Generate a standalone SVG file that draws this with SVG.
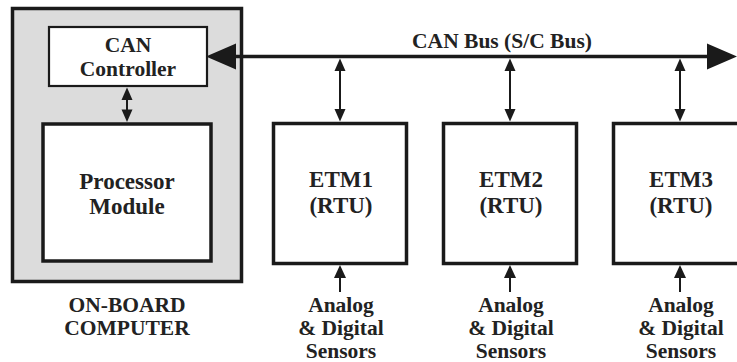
<svg xmlns="http://www.w3.org/2000/svg" width="737" height="362" viewBox="0 0 737 362">
  <style>
    .box { fill: #ffffff; stroke: #1a1a1a; stroke-width: 3.5; }
    .thin { stroke-width: 2.2; }
    .shell { fill: #dcdcdc; stroke: #1a1a1a; stroke-width: 3.5; }
    .t { font-family: "Liberation Serif", "Times New Roman", serif; font-weight: bold; fill: #222222; text-anchor: middle; }
    .f21 { font-size: 21.5px; }
    .f22 { font-size: 23px; }
    .wire { stroke: #1a1a1a; stroke-width: 2; fill: none; }
    .bus { stroke: #1a1a1a; stroke-width: 3.5; fill: none; }
    .head { fill: #1a1a1a; }
  </style>

  <!-- On-board computer enclosure with its two inner modules -->
  <g id="onboard-computer">
    <rect class="shell" x="12.5" y="8.5" width="229" height="273"/>
    <text class="t f21" x="127" y="312">ON-BOARD</text>
    <text class="t f21" x="127" y="335">COMPUTER</text>
  </g>

  <g id="can-controller">
    <rect class="box thin" x="49" y="27" width="158" height="59"/>
    <text class="t f21" x="128" y="52">CAN</text>
    <text class="t f21" x="128" y="76">Controller</text>
  </g>

  <g id="processor-module">
    <rect class="box" x="43" y="124" width="168" height="137"/>
    <text class="t f22" x="127" y="189">Processor</text>
    <text class="t f22" x="127" y="214">Module</text>
  </g>

  <!-- Remote terminal modules -->
  <g id="etm1">
    <rect class="box" x="273.5" y="123.5" width="133" height="140"/>
    <text class="t f22" x="341" y="187">ETM1</text>
    <text class="t f22" x="341" y="213">(RTU)</text>
  </g>

  <g id="etm2">
    <rect class="box" x="443.5" y="123.5" width="133" height="140"/>
    <text class="t f22" x="511" y="187">ETM2</text>
    <text class="t f22" x="511" y="213">(RTU)</text>
  </g>

  <g id="etm3">
    <rect class="box" x="613.5" y="123.5" width="133" height="140"/>
    <text class="t f22" x="681" y="187">ETM3</text>
    <text class="t f22" x="681" y="213">(RTU)</text>
  </g>

  <!-- Sensor inputs -->
  <g id="sensors1">
    <text class="t f21" x="341" y="312">Analog</text>
    <text class="t f21" x="341" y="335">&amp; Digital</text>
    <text class="t f21" x="341" y="358">Sensors</text>
  </g>
  <g id="sensors2">
    <text class="t f21" x="511" y="312">Analog</text>
    <text class="t f21" x="511" y="335">&amp; Digital</text>
    <text class="t f21" x="511" y="358">Sensors</text>
  </g>
  <g id="sensors3">
    <text class="t f21" x="681" y="312">Analog</text>
    <text class="t f21" x="681" y="335">&amp; Digital</text>
    <text class="t f21" x="681" y="358">Sensors</text>
  </g>

  <!-- Bus and links -->
  <g id="connectors">
    <!-- CAN bus -->
    <line class="bus" x1="230" y1="56.5" x2="712" y2="56.5"/>
    <polygon class="head" points="206,56.5 236,43.5 236,69.5"/>
    <polygon class="head" points="737,56.5 707,43.5 707,69.5"/>
    <text class="t f21" x="502" y="48">CAN Bus (S/C Bus)</text>

    <!-- controller to processor -->
    <line class="wire" x1="127" y1="96" x2="127" y2="114"/>
    <polygon class="head" points="127,87.5 121.5,100 132.5,100"/>
    <polygon class="head" points="127,122 121.5,109.5 132.5,109.5"/>

    <!-- bus to ETMs -->
    <line class="wire" x1="340" y1="66" x2="340" y2="112"/>
    <polygon class="head" points="340,58.5 334.5,71 345.5,71"/>
    <polygon class="head" points="340,121.5 334.5,109 345.5,109"/>

    <line class="wire" x1="510" y1="66" x2="510" y2="112"/>
    <polygon class="head" points="510,58.5 504.5,71 515.5,71"/>
    <polygon class="head" points="510,121.5 504.5,109 515.5,109"/>

    <line class="wire" x1="680" y1="66" x2="680" y2="112"/>
    <polygon class="head" points="680,58.5 674.5,71 685.5,71"/>
    <polygon class="head" points="680,121.5 674.5,109 685.5,109"/>

    <!-- sensors to ETMs -->
    <line class="wire" x1="340" y1="292" x2="340" y2="273"/>
    <polygon class="head" points="340,265 334,278 346,278"/>
    <line class="wire" x1="510" y1="292" x2="510" y2="273"/>
    <polygon class="head" points="510,265 504,278 516,278"/>
    <line class="wire" x1="680" y1="292" x2="680" y2="273"/>
    <polygon class="head" points="680,265 674,278 686,278"/>
  </g>
</svg>
